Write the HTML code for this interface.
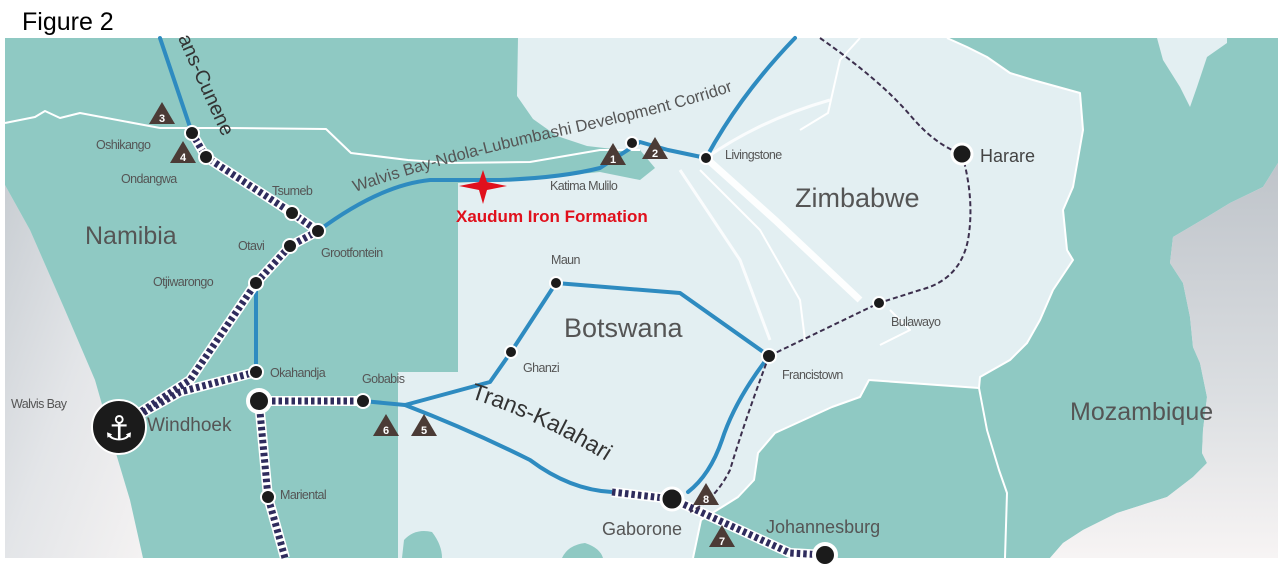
<!DOCTYPE html>
<html><head><meta charset="utf-8"><style>
html,body{margin:0;padding:0;background:#fff;width:1280px;height:571px;overflow:hidden}
svg{display:block}
text{font-family:"Liberation Sans","DejaVu Sans",sans-serif}
</style></head><body>
<svg width="1280" height="571" viewBox="0 0 1280 571" xmlns="http://www.w3.org/2000/svg">
<defs>
<linearGradient id="sea" x1="0" y1="0" x2="1" y2="1">
<stop offset="0" stop-color="#c9ced3"/><stop offset="0.5" stop-color="#e3e5e8"/><stop offset="1" stop-color="#f4f2f2"/>
</linearGradient>
<linearGradient id="sea2" x1="0" y1="0" x2="0" y2="1">
<stop offset="0" stop-color="#bfc4ca"/><stop offset="0.6" stop-color="#dcdfe2"/><stop offset="1" stop-color="#f7f4f4"/>
</linearGradient>
<g id="tri"><polygon points="0,-12 13,10 -13,10" fill="#4b3b36"/></g>
</defs>
<text x="22" y="30" font-size="25" fill="#000">Figure 2</text>
<rect x="5" y="38" width="1273" height="520" fill="#e3eff2"/>
<polygon points="5,185 30,230 65,310 95,380 115,450 130,500 143,558 5,558" fill="url(#sea)"/>
<polygon points="5,38 518,38 517,96 533,119 557,136 587,146 613,149 640,150 655,168 640,180 600,172 540,178 458,183 458,372 398,372 398,558 143,558 130,500 115,450 95,380 65,310 30,230 5,185" fill="#8fc9c3"/>
<path d="M402,558 L404,540 Q415,528 432,532 Q442,545 442,558 Z" fill="#8fc9c3"/>
<path d="M562,558 Q568,545 585,543 Q600,548 603,558 Z" fill="#8fc9c3"/>
<polygon points="979,388 869,380 860,397 832,407 775,433 758,453 754,480 738,497 722,507 701,520 693,558 1005,558 1007,493 999,470 987,430" fill="#8fc9c3"/>
<polygon points="947,38 1278,38 1278,163 1263,187 1230,203 1207,217 1173,237 1170,263 1183,283 1190,317 1193,347 1200,363 1207,397 1203,430 1202,453 1207,463 1193,477 1167,497 1117,513 1083,530 1063,543 1050,558 1005,558 1007,493 999,470 987,430 979,388 980,377 1010,360 1027,343 1040,320 1053,290 1073,260 1067,250 1063,210 1073,187 1083,130 1080,93 1033,80 1010,73 987,57 967,47" fill="#8fc9c3"/>
<polygon points="1278,163 1263,187 1230,203 1207,217 1173,237 1170,263 1183,283 1190,317 1193,347 1200,363 1207,397 1203,430 1202,453 1207,463 1193,477 1167,497 1117,513 1083,530 1063,543 1050,558 1278,558" fill="url(#sea2)"/>
<polygon points="1157,38 1163,60 1180,87 1190,107 1197,87 1207,57 1227,43 1227,38" fill="#e3eff2"/>
<g fill="none" stroke="#fff" stroke-width="2" stroke-linejoin="round">
<polyline points="5,123 35,117 45,111 60,118 80,113 160,128 230,128 326,129 351,153 408,160 449,163 530,162 600,150 640,150"/>
<polyline points="979,388 869,380 860,397 832,407 775,433 758,453 754,480 738,497 722,507 701,520 693,558"/>
<polyline points="979,388 987,430 999,470 1007,493 1005,558"/>
<polyline points="947,38 967,47 987,57 1010,73 1033,80 1080,93 1083,130 1073,187 1063,210 1067,250 1073,260 1053,290 1040,320 1027,343 1010,360 980,377 979,388"/>
<polyline points="860,38 840,60 828,113 800,130"/>
<polyline points="700,170 760,230 800,300 805,340"/>
<polyline points="890,310 910,330 880,345"/>
</g>
<path d="M706,158 L775,220 L860,300" fill="none" stroke="#fff" stroke-width="7" opacity="0.9"/>
<path d="M706,158 Q760,120 830,100" fill="none" stroke="#fff" stroke-width="3" opacity="0.8"/>
<path d="M680,170 L740,260 L770,340" fill="none" stroke="#fff" stroke-width="3" opacity="0.8"/>

<g fill="none" stroke="#2e8bc0" stroke-width="4" stroke-linecap="round" stroke-linejoin="round">
<path d="M160,38 L192,133"/>
<path d="M318,231 Q380,185 430,180 L500,180 Q560,178 600,168 L640,142 L668,150 L706,158 Q740,95 795,38"/>
<path d="M256,283 L256,372"/>
<path d="M363,401 L405,405 L490,382 L511,352 L556,283 L680,293 L769,356 Q735,400 722,440 Q710,475 688,492"/>
<path d="M405,405 Q470,430 530,460 Q570,490 612,492"/>
</g>
<g fill="none" stroke-linejoin="round">
<g stroke="#fff" stroke-width="10">
<path d="M192,133 L206,157 L292,213 L318,231"/>
<path d="M318,231 L290,246 L256,283 L190,380 L119,426"/>
<path d="M256,372 L180,392 L119,426"/>
<path d="M259,401 L268,497 L285,558"/>
<path d="M259,401 L363,401"/>
<path d="M612,492 L672,499"/>
<path d="M672,499 L740,530 L790,553 L825,555"/>
</g>
<g stroke="#2f2c5d" stroke-width="7" stroke-dasharray="3.5,3">
<path d="M192,133 L206,157 L292,213 L318,231"/>
<path d="M318,231 L290,246 L256,283 L190,380 L119,426"/>
<path d="M256,372 L180,392 L119,426"/>
<path d="M259,401 L268,497 L285,558"/>
<path d="M259,401 L363,401"/>
<path d="M612,492 L672,499"/>
<path d="M672,499 L740,530 L790,553 L825,555"/>
</g>
</g>
<g fill="none" stroke="#3c2f4d" stroke-width="2" stroke-dasharray="5,3">
<path d="M820,38 Q880,80 910,115 Q935,145 962,154"/>
<path d="M962,154 Q975,200 968,240 Q960,280 920,290 L879,303 L769,356"/>
<path d="M769,356 Q745,420 730,470 Q715,500 690,512"/>
</g>
<g fill="#1b1b1b" stroke="#fff" stroke-width="2">
<circle cx="192" cy="133" r="7"/><circle cx="206" cy="157" r="7"/>
<circle cx="292" cy="213" r="7"/><circle cx="318" cy="231" r="7"/>
<circle cx="290" cy="246" r="7"/><circle cx="256" cy="283" r="7"/>
<circle cx="256" cy="372" r="7"/><circle cx="259" cy="401" r="11" stroke-width="4"/>
<circle cx="268" cy="497" r="7"/><circle cx="363" cy="401" r="7"/>
<circle cx="511" cy="352" r="6"/><circle cx="556" cy="283" r="6"/>
<circle cx="769" cy="356" r="7"/><circle cx="879" cy="303" r="6"/>
<circle cx="962" cy="154" r="10" stroke-width="3"/>
<circle cx="706" cy="158" r="6"/><circle cx="632" cy="143" r="6"/>
<circle cx="672" cy="499" r="11" stroke-width="3"/>
<circle cx="825" cy="555" r="11" stroke-width="4"/>
</g>
<g font-size="11" font-weight="bold" fill="#fff" text-anchor="middle">
<use href="#tri" x="162" y="114"/><text x="162" y="122">3</text>
<use href="#tri" x="183" y="153"/><text x="183" y="161">4</text>
<use href="#tri" x="613" y="155"/><text x="613" y="163">1</text>
<use href="#tri" x="655" y="149"/><text x="655" y="157">2</text>
<use href="#tri" x="386" y="426"/><text x="386" y="434">6</text>
<use href="#tri" x="424" y="426"/><text x="424" y="434">5</text>
<use href="#tri" x="706" y="495"/><text x="706" y="503">8</text>
<use href="#tri" x="722" y="537"/><text x="722" y="545">7</text>
</g>
<circle cx="119" cy="427" r="27" fill="#1b1b1b" stroke="#fff" stroke-width="2"/>
<text x="119" y="440" font-size="34" fill="#fff" text-anchor="middle" font-family="DejaVu Sans">⚓</text>
<polygon points="483,170 487,182 507,186 487,190 483,204 479,190 459,186 479,182" fill="#e0101c"/>
<text x="456" y="222" font-size="17" font-weight="bold" fill="#e0101c">Xaudum Iron Formation</text>
<g fill="#555" font-size="25">
<text x="85" y="244">Namibia</text>
<text x="564" y="337" font-size="27">Botswana</text>
<text x="795" y="207" font-size="27">Zimbabwe</text>
<text x="1070" y="420" font-size="25">Mozambique</text>
</g>
<g fill="#555" font-size="12.5" letter-spacing="-0.6">
<text x="96" y="149">Oshikango</text>
<text x="121" y="183">Ondangwa</text>
<text x="272" y="195">Tsumeb</text>
<text x="321" y="257">Grootfontein</text>
<text x="238" y="250">Otavi</text>
<text x="153" y="286">Otjiwarongo</text>
<text x="270" y="377">Okahandja</text>
<text x="362" y="383">Gobabis</text>
<text x="11" y="408">Walvis Bay</text>
<text x="280" y="499">Mariental</text>
<text x="523" y="372">Ghanzi</text>
<text x="551" y="264">Maun</text>
<text x="550" y="190">Katima Mulilo</text>
<text x="725" y="159">Livingstone</text>
<text x="782" y="379">Francistown</text>
<text x="891" y="326">Bulawayo</text>
</g>
<text x="147" y="431" font-size="19" fill="#555">Windhoek</text>
<text x="980" y="162" font-size="18" fill="#444">Harare</text>
<text x="602" y="535" font-size="18" fill="#555">Gaborone</text>
<text x="766" y="533" font-size="18" fill="#555">Johannesburg</text>
<path id="p1" d="M355,192 Q450,160 560,136 Q680,110 735,90 Q760,78 778,58" fill="none"/>
<text font-size="16.5" fill="#555"><textPath href="#p1">Walvis Bay-Ndola-Lubumbashi Development Corridor</textPath></text>
<path id="p2" d="M178,38 Q205,100 245,185" fill="none"/>
<text font-size="20" fill="#333"><textPath href="#p2">ans-Cunene</textPath></text>
<path id="p3" d="M470,398 Q565,428 648,490" fill="none"/>
<text font-size="23" fill="#333"><textPath href="#p3">Trans-Kalahari</textPath></text>
</svg>
</body></html>
